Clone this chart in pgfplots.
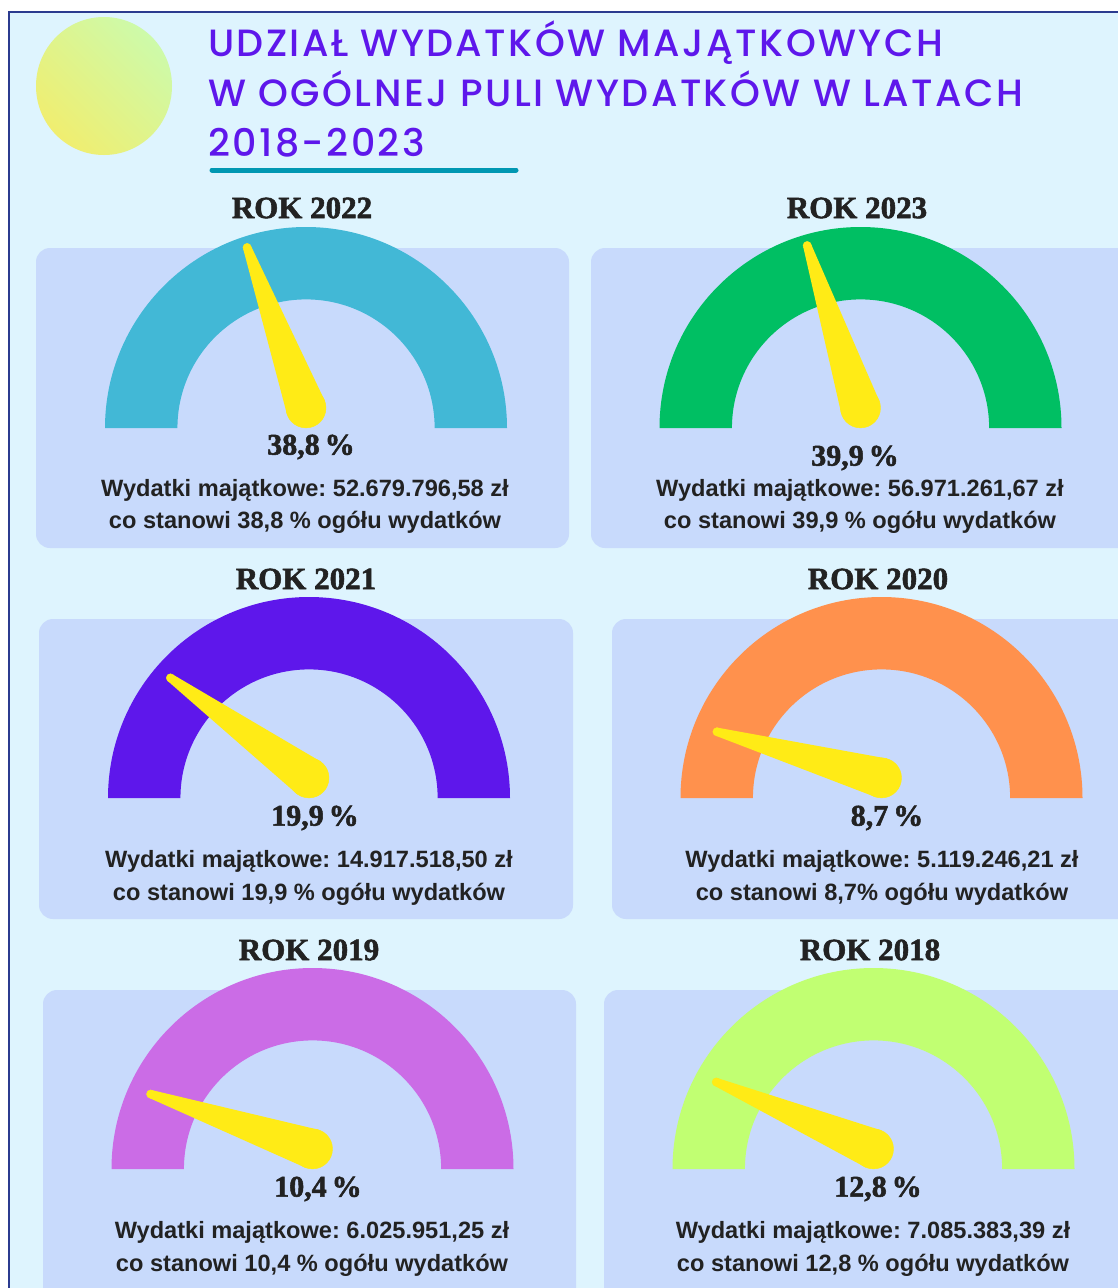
\documentclass[border=0pt]{standalone}
\usepackage{pgfplots}
\pgfplotsset{compat=1.18}
\usepackage{fontspec}
\setmainfont{Liberation Sans}
\newfontfamily\titlefont{Poppins Medium}[LetterSpace=6.5]
\newfontfamily\serifheavy{Liberation Serif Bold}[FakeBold=1.8]
\frenchspacing
\definecolor{bg}{HTML}{DEF4FE}
\definecolor{panel}{HTML}{C8DAFC}
\definecolor{needle}{HTML}{FFEB16}
\definecolor{ttl}{HTML}{5E17EB}
\definecolor{teal}{HTML}{0097B2}
\definecolor{navy}{HTML}{2B3B8F}
\definecolor{txt}{HTML}{222222}
\definecolor{dY}{HTML}{F0EE70}
\definecolor{dG}{HTML}{CDFAAA}
\definecolor{cA}{HTML}{42B8D6}
\definecolor{cB}{HTML}{00BF63}
\definecolor{cC}{HTML}{5E17EB}
\definecolor{cD}{HTML}{FF914D}
\definecolor{cE}{HTML}{CB6CE6}
\definecolor{cF}{HTML}{C1FF72}

% #1 cx, #2 baseline y (px from top), #3 ring colour, #4 percent value
\newcommand{\gauge}[4]{%
  \pgfmathsetmacro{\gAng}{180-1.8*#4}%
  \pgfmathsetmacro{\gL}{\gAng+90}%
  \pgfmathsetmacro{\gR}{\gAng-90}%
  \pgfmathsetmacro{\gTL}{\gAng+1.4}%
  \pgfmathsetmacro{\gTR}{\gAng-1.4}%
  \coordinate (G) at (#1,-#2);
  \begin{axis}[at={(G)}, anchor=south, x=201pt, y=201pt,
      xmin=-1, xmax=1, ymin=-0.1, ymax=0.9, hide axis, clip=false]
    \fill[#3] (axis cs:-1,-0.1) arc[start angle=180,end angle=0,radius=201pt]
       -- (axis cs:0.64,-0.1) arc[start angle=0,end angle=180,radius=128.6pt] -- cycle;
    \addplot[fill=needle, draw=none, data cs=polar]
       coordinates {(\gL,0.1) (\gTL,0.85) (\gTR,0.85) (\gR,0.1)} -- cycle;
    \addplot[only marks, mark=*, mark size=20pt, color=needle] coordinates {(0,0)};
    \addplot[only marks, mark=*, mark size=4.2pt, color=needle, data cs=polar] coordinates {(\gAng,0.85)};
  \end{axis}%
}

\begin{document}
\begin{tikzpicture}[x=1pt,y=1pt]
\useasboundingbox (0,0) rectangle (1118,-1288);
\clip (0,0) rectangle (1118,-1288);
% background
\fill[white] (0,0) rectangle (1118,-1288);
\fill[bg] (9,-12) rectangle (1130,-1300);
\draw[navy, line width=2.5pt] (9,-1300) -- (9,-12) -- (1130,-12);
% decorative circle
\shade[left color=dY, right color=dG, shading angle=135]
  (104,-86) ellipse [x radius=68, y radius=69];
% title
\node[anchor=base west, inner sep=0, text=ttl, font=\titlefont\fontsize{38}{38}\selectfont] at (208,-56) {UDZIAŁ WYDATKÓW MAJĄTKOWYCH};
\node[anchor=base west, inner sep=0, text=ttl, font=\titlefont\fontsize{38}{38}\selectfont] at (208,-106) {W OGÓLNEJ PULI WYDATKÓW W LATACH};
\node[anchor=base west, inner sep=0, text=ttl, font=\titlefont\fontsize{38}{38}\selectfont] at (208,-156) {2018-2023};
\draw[teal, line width=5pt, line cap=round] (212,-170) -- (516,-170);
% panels
\fill[panel, rounded corners=14pt] (36,-248) rectangle (569,-548);
\fill[panel, rounded corners=14pt] (591,-248) rectangle (1140,-548);
\fill[panel, rounded corners=14pt] (39,-619) rectangle (573,-919);
\fill[panel, rounded corners=14pt] (612,-619) rectangle (1140,-919);
\fill[panel, rounded corners=14pt] (43,-990) rectangle (576,-1310);
\fill[panel, rounded corners=14pt] (604,-990) rectangle (1140,-1310);
% gauges
\gauge{306}{428}{cA}{38.8}
\gauge{860.5}{428}{cB}{39.9}
\gauge{309}{798}{cC}{19.9}
\gauge{881.5}{798}{cD}{8.7}
\gauge{312.5}{1169}{cE}{10.4}
\gauge{873.5}{1169}{cF}{12.8}
% year labels
\tikzset{rok/.style={text=txt, font=\serifheavy\fontsize{31}{31}\selectfont, inner sep=0},
         pct/.style={text=txt, font=\serifheavy\fontsize{30}{30}\selectfont, inner sep=0},
         body/.style={text=txt, font=\bfseries\fontsize{23.6}{23.6}\selectfont, inner sep=0}}
\node[rok] at (302,-208) {ROK 2022};
\node[rok] at (857,-208) {ROK 2023};
\node[rok] at (306,-579) {ROK 2021};
\node[rok] at (878,-579) {ROK 2020};
\node[rok] at (309,-950) {ROK 2019};
\node[rok] at (870,-950) {ROK 2018};
% percentage labels
\node[pct] at (311,-447) {38,8\,\%};
\node[pct] at (855,-458) {39,9\,\%};
\node[pct] at (315,-818) {19,9\,\%};
\node[pct] at (887,-818) {8,7\,\%};
\node[pct] at (318,-1189) {10,4\,\%};
\node[pct] at (878,-1189) {12,8\,\%};
% body text
\node[body] at (305,-490) {Wydatki majątkowe: 52.679.796,58 zł};
\node[body] at (305,-522) {co stanowi 38,8 \% ogółu wydatków};
\node[body] at (860,-490) {Wydatki majątkowe: 56.971.261,67 zł};
\node[body] at (860,-522) {co stanowi 39,9 \% ogółu wydatków};
\node[body] at (309,-861) {Wydatki majątkowe: 14.917.518,50 zł};
\node[body] at (309,-894) {co stanowi 19,9 \% ogółu wydatków};
\node[body] at (882,-861) {Wydatki majątkowe: 5.119.246,21 zł};
\node[body] at (882,-894) {co stanowi 8,7\% ogółu wydatków};
\node[body] at (312,-1232) {Wydatki majątkowe: 6.025.951,25 zł};
\node[body] at (312,-1265) {co stanowi 10,4 \% ogółu wydatków};
\node[body] at (873,-1232) {Wydatki majątkowe: 7.085.383,39 zł};
\node[body] at (873,-1265) {co stanowi 12,8 \% ogółu wydatków};
\end{tikzpicture}
\end{document}
